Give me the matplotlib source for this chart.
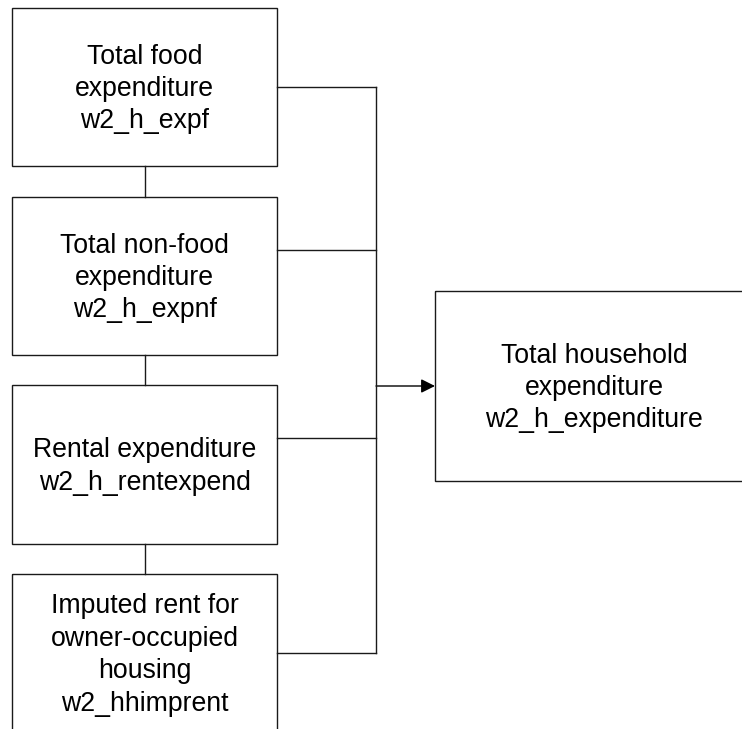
import matplotlib
matplotlib.use("Agg")
import matplotlib.pyplot as plt
from matplotlib.patches import Rectangle, FancyArrowPatch

# Content
source_labels = [
    "Total food\nexpenditure\nw2_h_expf",
    "Total non-food\nexpenditure\nw2_h_expnf",
    "Rental expenditure\nw2_h_rentexpend",
    "Imputed rent for\nowner-occupied\nhousing\nw2_hhimprent",
]
target_label = "Total household\nexpenditure\nw2_h_expenditure"

# Layout (pixel coordinates, y down)
W, H = 742, 729
src_x0, src_x1 = 12, 277
src_tops = [8, 197, 385, 574]
src_bottoms = [166, 355, 544, 732]
src_link_y = [87, 250, 438, 653]
bus_x = 376
arrow_y = 386
tgt_x0, tgt_x1 = 435, 753
tgt_y0, tgt_y1 = 291, 481
text_dy = 2

fig = plt.figure(figsize=(W / 100, H / 100), dpi=100)
ax = fig.add_axes([0, 0, 1, 1])
ax.set_xlim(0, W)
ax.set_ylim(H, 0)
ax.axis("off")

font = dict(family=["Liberation Sans", "DejaVu Sans"], fontsize=19.2,
            ha="center", va="center", linespacing=1.32, color="black")
lc = "#1a1a1a"
lw = 1.0

for lab, t, b in zip(source_labels, src_tops, src_bottoms):
    ax.add_patch(Rectangle((src_x0, t), src_x1 - src_x0, b - t,
                           fill=False, edgecolor=lc, lw=lw))
    ax.text((src_x0 + src_x1) / 2, (t + b) / 2 + text_dy, lab, **font)

# vertical connectors between stacked boxes
cx = (src_x0 + src_x1) / 2
for b, t in zip(src_bottoms[:-1], src_tops[1:]):
    ax.plot([cx, cx], [b, t], color=lc, lw=lw)

# horizontal links to bus
for y in src_link_y:
    ax.plot([src_x1, bus_x], [y, y], color=lc, lw=lw)
ax.plot([bus_x, bus_x], [src_link_y[0], src_link_y[-1]], color=lc, lw=lw)

# arrow to target
ax.add_patch(FancyArrowPatch((bus_x, arrow_y), (tgt_x0, arrow_y),
                             arrowstyle="-|>,head_length=0.6,head_width=0.3",
                             mutation_scale=14, color="black", lw=lw,
                             shrinkA=0, shrinkB=0))

# target box
ax.add_patch(Rectangle((tgt_x0, tgt_y0), tgt_x1 - tgt_x0, tgt_y1 - tgt_y0,
                       fill=False, edgecolor=lc, lw=lw))
ax.text((tgt_x0 + tgt_x1) / 2, (tgt_y0 + tgt_y1) / 2 + text_dy, target_label, **font)

fig.savefig("out.png", dpi=100, facecolor="white")
